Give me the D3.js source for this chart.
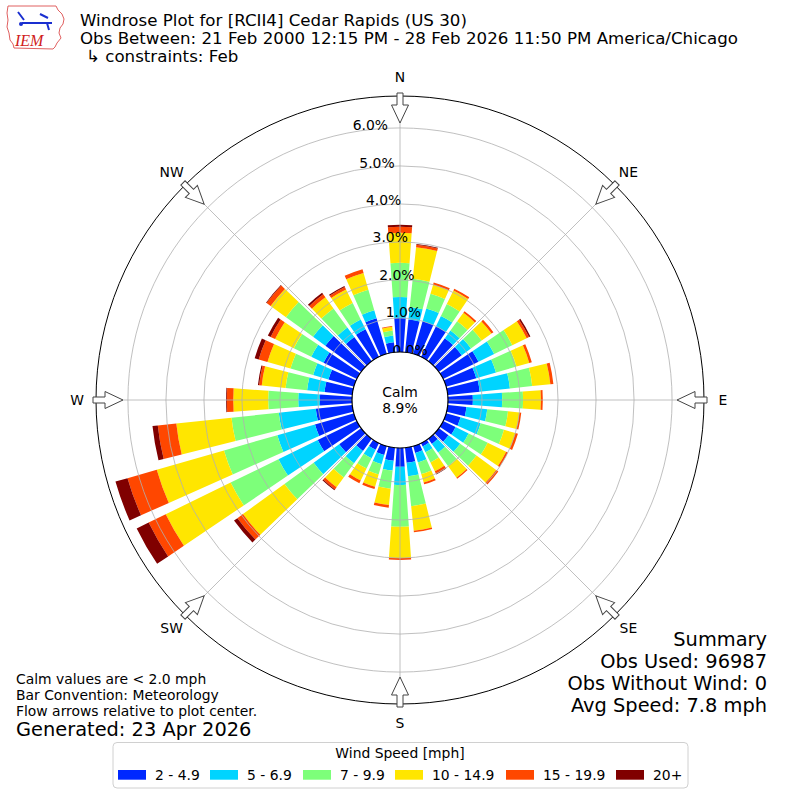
<!DOCTYPE html>
<html>
<head>
<meta charset="utf-8">
<script src="https://cdn.jsdelivr.net/npm/d3@7"></script>
<style>
  body { margin: 0; background: #fff; }
  svg text { font-family: "DejaVu Sans", sans-serif; fill: #000; }
</style>
</head>
<body>
<div id="chart"></div>
<script>
// --- data (percent of obs per 10 deg direction bin)
const directions = [0, 10, 20, 30, 40, 50, 60, 70, 80, 90, 100, 110, 120, 130, 140, 150, 160, 170,
                    180, 190, 200, 210, 220, 230, 240, 250, 260, 270, 280, 290, 300, 310, 320, 330, 340, 350];
const speedBins = ["2 - 4.9", "5 - 6.9", "7 - 9.9", "10 - 14.9", "15 - 19.9", "20+"];
const binColors = ["#0028ff", "#00d4ff", "#7dff7a", "#ffe600", "#ff4700", "#800000"];

const spd2to5 = [1.00, 0.97, 1.00, 1.00, 0.85, 0.85, 1.14, 0.93, 0.95, 0.76, 0.60, 0.50, 0.47, 0.42, 0.27, 0.20, 0.29, 0.50,
                 0.60, 0.45, 0.35, 0.30, 0.50, 0.82, 1.25, 1.17, 1.07, 0.95, 0.84, 0.80, 1.08, 1.27, 0.89, 0.91, 1.08, 0.37];
const spd5to7 = [0.55, 0.33, 0.35, 0.30, 0.25, 0.30, 0.46, 0.54, 0.80, 0.77, 0.55, 0.55, 0.38, 0.38, 0.28, 0.17, 0.26, 0.36,
                 0.48, 0.26, 0.25, 0.25, 0.40, 0.83, 1.15, 1.03, 0.98, 0.57, 0.46, 0.42, 0.36, 0.40, 0.31, 0.29, 0.22, 0.18];
const spd7to10 = [0.90, 0.75, 0.40, 0.35, 0.30, 0.35, 0.53, 0.56, 0.59, 0.55, 0.55, 0.64, 0.56, 0.53, 0.44, 0.30, 0.32, 0.79,
                  1.10, 0.48, 0.28, 0.30, 0.46, 0.95, 1.40, 1.46, 1.25, 0.79, 0.57, 0.62, 0.51, 0.88, 0.62, 0.48, 0.56, 0.13];
const spd10to15 = [0.79, 0.83, 0.25, 0.40, 0.28, 0.32, 0.42, 0.35, 0.48, 0.47, 0.30, 0.31, 0.54, 0.64, 0.38, 0.26, 0.23, 0.65,
                   0.82, 0.43, 0.34, 0.35, 0.32, 1.35, 1.90, 1.84, 1.46, 0.92, 0.63, 0.63, 0.55, 0.50, 0.36, 0.40, 0.46, 0.10];
const spd15to20 = [0.16, 0.07, 0.06, 0.05, 0.05, 0.06, 0.07, 0.07, 0.08, 0.05, 0.05, 0.07, 0.05, 0.07, 0.03, 0.07, 0.05, 0.04,
                   0.05, 0.07, 0.06, 0.08, 0.07, 0.18, 0.50, 0.80, 0.49, 0.17, 0.07, 0.24, 0.13, 0.13, 0.10, 0.07, 0.10, 0.02];
const spd20up = [0.05, 0.02, 0.00, 0.00, 0.00, 0.00, 0.04, 0.00, 0.00, 0.00, 0.00, 0.00, 0.00, 0.00, 0.00, 0.02, 0.00, 0.00,
                 0.00, 0.00, 0.00, 0.00, 0.03, 0.11, 0.35, 0.33, 0.14, 0.02, 0.03, 0.11, 0.08, 0.02, 0.05, 0.03, 0.00, 0.00];

const ringTicks = [0, 1, 2, 3, 4, 5, 6];
const compassNames = ["N", "NE", "E", "SE", "S", "SW", "W", "NW"];
const compassAngles = [0, 45, 90, 135, 180, 225, 270, 315];

const calmText = "8.9%";
const titleLines = ["Windrose Plot for [RCII4] Cedar Rapids (US 30)",
                    "Obs Between: 21 Feb 2000 12:15 PM - 28 Feb 2026 11:50 PM America/Chicago",
                    "\u21b3 constraints: Feb"];
const noteLines = ["Calm values are < 2.0 mph", "Bar Convention: Meteorology", "Flow arrows relative to plot center."];
const generatedText = "Generated: 23 Apr 2026";
const summaryLines = ["Summary", "Obs Used: 96987", "Obs Without Wind: 0", "Avg Speed: 7.8 mph"];

// --- layout
let width = 800, height = 800;
let cx = 400, cy = 400;
let outerR = 304, calmR = 48;

const binSeries = [spd2to5, spd5to7, spd7to10, spd10to15, spd15to20, spd20up];
const table = directions.map(function (d, i) {
    let row = { dir: d };
    speedBins.forEach(function (b, j) { row[b] = binSeries[j][i]; });
    return row;
});
const stacked = d3.stack().keys(speedBins)(table);

let rScale = d3.scaleLinear().domain([0, 6.84]).range([44, outerR]);
let rad = Math.PI / 180;

let svg = d3.select("#chart").append("svg")
    .attr("width", width).attr("height", height)
    .style("display", "block");

let polar = svg.append("g").attr("transform", "translate(" + cx + "," + cy + ")");

// bars
let arc = d3.arc();
stacked.forEach(function (layer, j) {
    polar.append("g").selectAll("path")
        .data(layer)
        .join("path")
        .attr("fill", binColors[j])
        .attr("d", function (d) {
            let a = d.data.dir;
            return arc({
                innerRadius: rScale(d[0]),
                outerRadius: rScale(d[1]),
                startAngle: (a - 4) * rad,
                endAngle: (a + 4) * rad
            });
        });
});

// grid on top of the bars
polar.append("g").selectAll("circle")
    .data(ringTicks)
    .join("circle")
    .attr("r", d => rScale(d))
    .attr("fill", "none")
    .attr("stroke", "#b0b0b0")
    .attr("stroke-width", 0.8);

polar.append("g").selectAll("line")
    .data(compassAngles)
    .join("line")
    .attr("x1", 0).attr("y1", 0)
    .attr("x2", d => outerR * Math.sin(d * rad))
    .attr("y2", d => -outerR * Math.cos(d * rad))
    .attr("stroke", "#b0b0b0")
    .attr("stroke-width", 0.8);

polar.append("circle")
    .attr("r", outerR)
    .attr("fill", "none")
    .attr("stroke", "#000")
    .attr("stroke-width", 1);

// radial tick labels sit along 350 deg
polar.append("g").selectAll("text")
    .data(ringTicks)
    .join("text")
    .attr("x", d => rScale(d) * Math.sin(-10 * rad))
    .attr("y", d => -rScale(d) * Math.cos(-10 * rad) - 2)
    .attr("font-size", "13.9px")
    .text(d => d.toFixed(1) + "%");

// calm circle
polar.append("circle")
    .attr("r", calmR)
    .attr("fill", "#fff")
    .attr("stroke", "#000")
    .attr("stroke-width", 1.2);
polar.append("text").attr("x", 0).attr("y", -3)
    .attr("text-anchor", "middle").attr("font-size", "13.9px").text("Calm");
polar.append("text").attr("x", 0).attr("y", 13)
    .attr("text-anchor", "middle").attr("font-size", "13.9px").text(calmText);

// flow arrows on the rim, pointing in
let arrowPath = "M-3,-307 L3,-307 L3,-295 L8.5,-295 L0,-277 L-8.5,-295 L-3,-295 Z";
polar.append("g").selectAll("path")
    .data(compassAngles)
    .join("path")
    .attr("d", arrowPath)
    .attr("transform", d => "rotate(" + d + ")")
    .attr("fill", "#fff")
    .attr("stroke", "#444")
    .attr("stroke-width", 1);

polar.append("g").selectAll("text")
    .data(compassAngles)
    .join("text")
    .attr("x", d => 323 * Math.sin(d * rad))
    .attr("y", d => -323 * Math.cos(d * rad))
    .attr("text-anchor", "middle")
    .attr("dominant-baseline", "central")
    .attr("font-size", "13.9px")
    .text((d, i) => compassNames[i]);

// titles
svg.append("g").selectAll("text")
    .data(titleLines)
    .join("text")
    .attr("x", (d, i) => i == 2 ? 86 : 80)
    .attr("y", (d, i) => 26 + i * 17.8)
    .attr("font-size", "16.67px")
    .text(d => d);

// IEM logo (rough)
let logo = svg.append("g");
logo.append("path")
    .attr("d", "M8,6 L56,6 L58,10 L62,14 L64,19 L63,24 L60,28 L59,33 L61,38 L57,43 L55,47 L53,49 L14,48 L13,44 L10,40 L9,33 L7,27 L8,20 L7,13 Z")
    .attr("fill", "none").attr("stroke", "#e06060").attr("stroke-width", 1);
logo.append("line").attr("x1", 22).attr("y1", 23).attr("x2", 52).attr("y2", 23)
    .attr("stroke", "#1a2fd0").attr("stroke-width", 2);
logo.append("path").attr("d", "M18,12 L24,20 M40,14 L48,18 M47,23 L49,30")
    .attr("stroke", "#1a2fd0").attr("stroke-width", 2).attr("fill", "none");
logo.append("circle").attr("cx", 21).attr("cy", 24).attr("r", 2).attr("fill", "#1a2fd0");
logo.append("text").attr("x", 15).attr("y", 46)
    .style("font-family", "'Liberation Serif', serif").style("font-style", "italic")
    .attr("font-size", "16px").style("fill", "#d02020").text("IEM");

// notes bottom-left
svg.append("g").selectAll("text")
    .data(noteLines)
    .join("text")
    .attr("x", 16)
    .attr("y", (d, i) => 684 + i * 16)
    .attr("font-size", "13.9px")
    .text(d => d);
svg.append("text").attr("x", 16).attr("y", 736)
    .attr("font-size", "19.4px").text(generatedText);

// summary bottom-right
svg.append("g").selectAll("text")
    .data(summaryLines)
    .join("text")
    .attr("x", 767)
    .attr("y", (d, i) => 646 + i * 22)
    .attr("text-anchor", "end")
    .attr("font-size", "19.4px")
    .text(d => d);

// legend
let legend = svg.append("g");
legend.append("rect")
    .attr("x", 113).attr("y", 742.5).attr("width", 575).attr("height", 45.5)
    .attr("rx", 4).attr("fill", "#fff").attr("stroke", "#d0d0d0").attr("stroke-width", 1);
legend.append("text").attr("x", 400).attr("y", 758)
    .attr("text-anchor", "middle").attr("font-size", "13.9px").text("Wind Speed [mph]");
let legendX = [118, 210, 303, 395, 506, 616];
let item = legend.selectAll("g.item")
    .data(speedBins)
    .join("g")
    .attr("class", "item")
    .attr("transform", (d, i) => "translate(" + legendX[i] + ",0)");
item.append("rect")
    .attr("x", 0).attr("y", 770).attr("width", 28).attr("height", 9.7)
    .attr("fill", (d, i) => binColors[i]);
item.append("text")
    .attr("x", 37).attr("y", 779.5)
    .attr("font-size", "13.9px")
    .text(d => d);
</script>
</body>
</html>
